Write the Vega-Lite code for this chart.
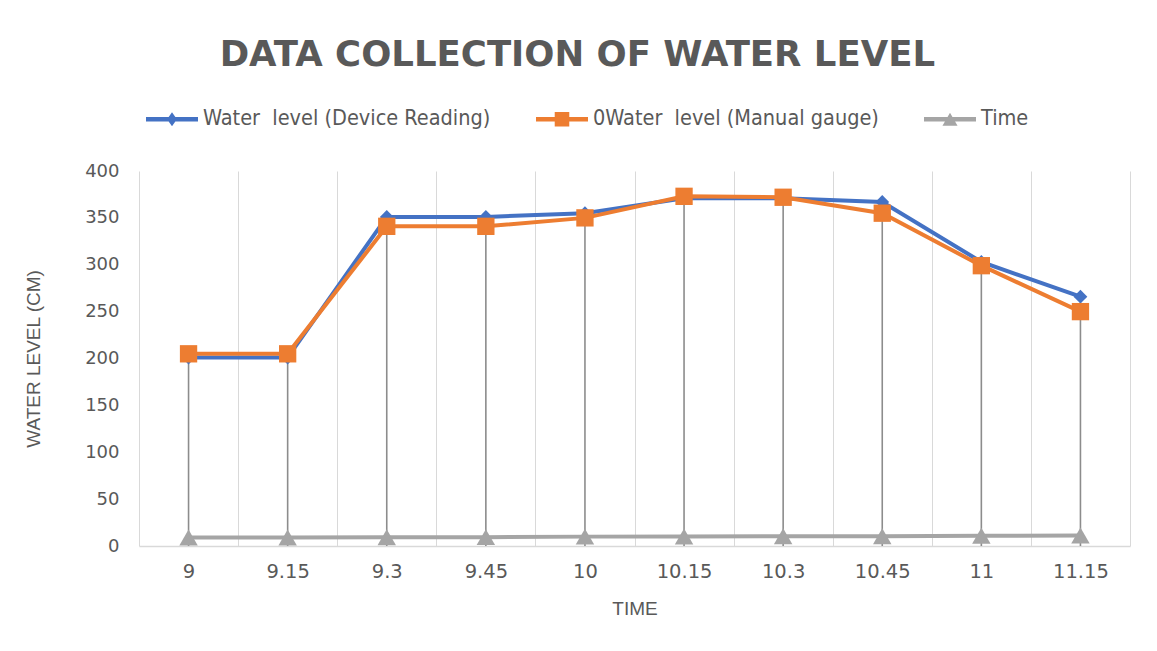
{
  "$schema": "https://vega.github.io/schema/vega-lite/v6.json",
  "width": 1157,
  "height": 651,
  "autosize": {"type": "fit", "contains": "padding"},
  "padding": {"left": 24, "top": 37, "right": 27, "bottom": 32},
  "background": "white",
  "title": {
    "text": "DATA COLLECTION OF WATER LEVEL",
    "font": "DejaVu Sans, Liberation Sans, sans-serif",
    "fontSize": 35.5,
    "fontWeight": "bold",
    "color": "#595959",
    "anchor": "middle",
    "frame": "bounds",
    "offset": 89
  },
  "config": {
    "view": {"stroke": null},
    "font": "Liberation Sans",
    "axis": {
      "labelFont": "DejaVu Sans",
      "labelColor": "#595959",
      "titleFont": "Liberation Sans",
      "titleFontSize": 19,
      "titleFontWeight": "normal",
      "titleColor": "#595959",
      "ticks": false
    },
    "legend": {
      "labelFont": "DejaVu Sans Condensed, Liberation Sans, sans-serif",
      "labelFontSize": 21.5,
      "labelColor": "#595959",
      "labelLimit": 400
    }
  },
  "data": {
    "values": [
      {"time": "9", "series": "Water\u00a0 level (Device Reading)", "level": 201},
      {"time": "9.15", "series": "Water\u00a0 level (Device Reading)", "level": 201},
      {"time": "9.3", "series": "Water\u00a0 level (Device Reading)", "level": 351},
      {"time": "9.45", "series": "Water\u00a0 level (Device Reading)", "level": 351},
      {"time": "10", "series": "Water\u00a0 level (Device Reading)", "level": 355},
      {"time": "10.15", "series": "Water\u00a0 level (Device Reading)", "level": 371},
      {"time": "10.3", "series": "Water\u00a0 level (Device Reading)", "level": 371},
      {"time": "10.45", "series": "Water\u00a0 level (Device Reading)", "level": 367},
      {"time": "11", "series": "Water\u00a0 level (Device Reading)", "level": 303},
      {"time": "11.15", "series": "Water\u00a0 level (Device Reading)", "level": 266},
      {"time": "9", "series": "0Water\u00a0 level (Manual gauge)", "level": 205},
      {"time": "9.15", "series": "0Water\u00a0 level (Manual gauge)", "level": 205},
      {"time": "9.3", "series": "0Water\u00a0 level (Manual gauge)", "level": 341},
      {"time": "9.45", "series": "0Water\u00a0 level (Manual gauge)", "level": 341},
      {"time": "10", "series": "0Water\u00a0 level (Manual gauge)", "level": 350},
      {"time": "10.15", "series": "0Water\u00a0 level (Manual gauge)", "level": 373},
      {"time": "10.3", "series": "0Water\u00a0 level (Manual gauge)", "level": 372},
      {"time": "10.45", "series": "0Water\u00a0 level (Manual gauge)", "level": 355},
      {"time": "11", "series": "0Water\u00a0 level (Manual gauge)", "level": 299},
      {"time": "11.15", "series": "0Water\u00a0 level (Manual gauge)", "level": 250},
      {"time": "9", "series": "Time", "level": 9},
      {"time": "9.15", "series": "Time", "level": 9.15},
      {"time": "9.3", "series": "Time", "level": 9.3},
      {"time": "9.45", "series": "Time", "level": 9.45},
      {"time": "10", "series": "Time", "level": 10},
      {"time": "10.15", "series": "Time", "level": 10.15},
      {"time": "10.3", "series": "Time", "level": 10.3},
      {"time": "10.45", "series": "Time", "level": 10.45},
      {"time": "11", "series": "Time", "level": 11},
      {"time": "11.15", "series": "Time", "level": 11.15}
    ]
  },
  "encoding": {
    "x": {
      "field": "time",
      "type": "ordinal",
      "sort": ["9", "9.15", "9.3", "9.45", "10", "10.15", "10.3", "10.45", "11", "11.15"],
      "scale": {"paddingInner": 0, "paddingOuter": 0},
      "axis": {
        "title": "TIME",
        "labelAngle": 0,
        "labelFontSize": 19.5,
        "tickBand": "extent",
        "grid": true,
        "gridColor": "#d9d9d9",
        "gridWidth": 1,
        "domainColor": "#d9d9d9",
        "domainWidth": 1.5,
        "labelPadding": 16,
        "titlePadding": 19
      }
    },
    "y": {
      "field": "level",
      "type": "quantitative",
      "scale": {"domain": [0, 400]},
      "axis": {
        "title": "WATER LEVEL (CM)",
        "values": [0, 50, 100, 150, 200, 250, 300, 350, 400],
        "grid": false,
        "domain": false,
        "labelFontSize": 18,
        "labelPadding": 20,
        "titlePadding": 41
      }
    },
    "color": {
      "field": "series",
      "type": "nominal",
      "scale": {
        "domain": ["Water\u00a0 level (Device Reading)", "0Water\u00a0 level (Manual gauge)", "Time"],
        "range": ["#4472C4", "#ED7D31", "#A5A5A5"]
      },
      "legend": {
        "title": null,
        "orient": "none",
        "legendX": 7,
        "legendY": -78,
        "direction": "horizontal",
        "padding": 0,
        "symbolSize": 2704,
        "symbolStrokeWidth": 0,
        "labelOffset": 5,
        "columnPadding": 45,
        "encode": {
          "symbols": {
            "update": {
              "shape": {"signal": "datum.value === 'Time' ? 'M-1,-0.085H1V0.085H-1Z M0,-0.25L0.29,0.25L-0.29,0.25Z' : (datum.index === 0 ? 'M-1,-0.085H1V0.085H-1Z M0,-0.27L0.19,0L0,0.27L-0.19,0Z' : 'M-1,-0.085H1V0.085H-1Z M-0.28,-0.28H0.28V0.28H-0.28Z')"},
              "fill": {"signal": "scale('color', datum.value)"},
              "fillOpacity": {"value": 1},
              "opacity": {"value": 1},
              "strokeWidth": {"value": 0}
            }
          }
        }
      }
    }
  },
  "layer": [
    {
      "transform": [{"aggregate": [{"op": "max", "field": "level", "as": "top"}], "groupby": ["time"]}],
      "mark": {"type": "rule", "color": "#8c8c8c", "strokeWidth": 1.6},
      "encoding": {
        "y": {"field": "top", "type": "quantitative"},
        "y2": {"datum": 0},
        "color": {"value": "#8c8c8c"}
      }
    },
    {
      "mark": {"type": "line", "strokeWidth": 4}
    },
    {
      "transform": [{"filter": {"field": "series", "equal": "Water\u00a0 level (Device Reading)"}}],
      "mark": {"type": "point", "shape": "diamond", "size": 190, "filled": true, "opacity": 1}
    },
    {
      "transform": [{"filter": {"field": "series", "equal": "0Water\u00a0 level (Manual gauge)"}}],
      "mark": {"type": "point", "shape": "square", "size": 300, "filled": true, "opacity": 1}
    },
    {
      "transform": [{"filter": {"field": "series", "equal": "Time"}}],
      "mark": {"type": "point", "shape": "triangle-up", "size": 340, "filled": true, "opacity": 1}
    }
  ]
}
